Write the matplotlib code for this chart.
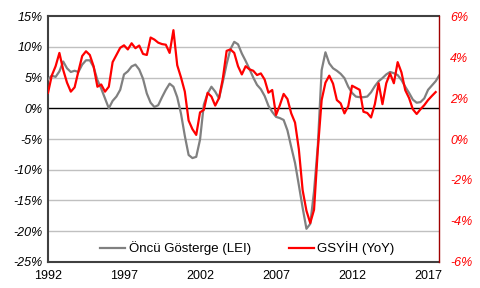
import matplotlib
matplotlib.use("Agg")
import matplotlib.pyplot as plt
import numpy as np

plt.rcParams['font.family'] = ['Liberation Sans', 'DejaVu Sans']

start_year = 1992.0
lei = [4.7, 5.3, 5.1, 6.0, 7.6, 6.5, 5.9, 6.1, 5.9, 7.1, 7.8, 7.8, 6.7, 4.6, 3.2, 1.6,
       0.0, 1.2, 1.9, 3.0, 5.5, 6.0, 6.8, 7.1, 6.3, 4.8, 2.4, 0.9, 0.2, 0.5, 1.8, 3.0,
       4.0, 3.5, 1.8, -0.9, -4.5, -7.6, -8.1, -7.9, -5.1, 0.6, 2.4, 3.5, 2.7, 1.6, 4.3, 7.2,
       9.6, 10.8, 10.4, 8.9, 7.7, 6.4, 5.0, 3.8, 3.1, 2.0, 0.4, -0.6, -1.4, -1.6, -1.9, -3.6,
       -6.3, -8.9, -12.5, -16.2, -19.6, -18.8, -13.5, -6.0, 6.2, 9.1, 7.3, 6.5, 6.1, 5.6, 4.9, 3.5,
       2.5, 1.9, 1.8, 1.8, 1.9, 2.6, 3.6, 4.4, 4.9, 5.5, 5.9, 5.7, 5.4, 4.6, 3.5, 2.5,
       1.4, 0.9, 1.0, 1.6, 3.0, 3.7, 4.4, 5.4]
gdp = [2.25, 3.1, 3.55, 4.2, 3.37, 2.75, 2.31, 2.52, 3.3, 4.05, 4.28, 4.1, 3.55, 2.55, 2.66, 2.31,
       2.55, 3.75, 4.1, 4.45, 4.57, 4.37, 4.67, 4.43, 4.56, 4.15, 4.1, 4.95, 4.85, 4.7, 4.63, 4.6,
       4.2, 5.31, 3.6, 3.0, 2.31, 0.9, 0.48, 0.2, 1.3, 1.42, 2.25, 2.07, 1.63, 2.0, 2.95, 4.3,
       4.37, 4.2, 3.55, 3.15, 3.55, 3.4, 3.33, 3.12, 3.2, 2.9, 2.26, 2.39, 1.17, 1.65, 2.2, 1.95,
       1.25, 0.8, -0.5, -2.5, -3.5, -4.1, -3.45, -0.5, 1.9, 2.75, 3.09, 2.7, 1.9, 1.74, 1.25, 1.6,
       2.6, 2.5, 2.4, 1.33, 1.27, 1.05, 1.7, 2.72, 1.7, 2.72, 3.2, 2.72, 3.75, 3.25, 2.38, 2.0,
       1.45, 1.22, 1.45, 1.65, 1.9, 2.1, 2.29]
x_ticks = [1992, 1997, 2002, 2007, 2012, 2017]
left_ticks = [15, 10, 5, 0, -5, -10, -15, -20, -25]
right_ticks = [6, 4, 2, 0, -2, -4, -6]
labels = ['Öncü Gösterge (LEI)', 'GSYİH (YoY)']

t_lei = start_year + 0.25 * np.arange(len(lei))
t_gdp = start_year + 0.25 * np.arange(len(gdp))

fig = plt.figure(figsize=(4.81, 2.88), dpi=100)
ax = fig.add_axes([0.0998, 0.0903, 0.8129, 0.8541])
ax2 = ax.twinx()

for v in left_ticks:
    if v == 0:
        ax.axhline(v, color='black', lw=1.0, zorder=1)
    elif v not in (15, -25):
        ax.axhline(v, color='#c0c0c0', lw=1.0, zorder=0)

l1, = ax.plot(t_lei, lei, color='#808080', lw=1.6, zorder=3)
l2, = ax2.plot(t_gdp, gdp, color='#ff0000', lw=1.6, zorder=3)

ax.set_xlim(1992, 2017.72)
ax.set_ylim(-25, 15)
ax2.set_ylim(-6, 6)

ax.set_xticks(x_ticks)
ax.set_xticklabels([str(v) for v in x_ticks], fontsize=9)
ax.set_yticks(left_ticks)
ax.set_yticklabels([f'{v}%' for v in left_ticks], fontsize=9, style='italic')
ax2.set_yticks(right_ticks)
ax2.set_yticklabels([f'{v}%' for v in right_ticks], fontsize=9, style='italic', color='#ff0000')

ax.tick_params(axis='y', length=0, pad=4)
ax.tick_params(axis='x', length=0, pad=6)
ax2.tick_params(axis='y', length=0, pad=8)

for s in ['left', 'top', 'bottom']:
    ax.spines[s].set_color('#404040')
    ax.spines[s].set_linewidth(1.5)
    ax2.spines[s].set_visible(False)
ax.spines['right'].set_visible(False)
ax2.spines['right'].set_color('#a00000')
ax2.spines['right'].set_linewidth(1.0)

leg = ax2.legend([l1, l2], labels, loc='lower center', ncol=2, frameon=False,
                 fontsize=9.5, handlelength=1.9, columnspacing=2.9, handletextpad=0.25,
                 bbox_to_anchor=(0.51, -0.005), borderaxespad=0.2)

fig.savefig('out.png', dpi=100)
